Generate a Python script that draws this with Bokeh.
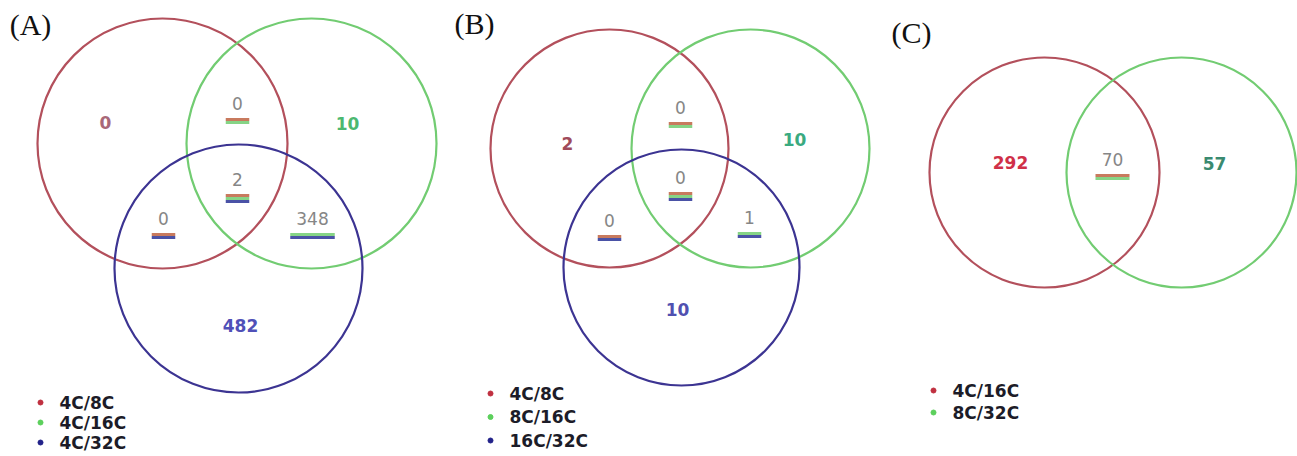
from bokeh.plotting import figure
from bokeh.models import Range1d
from bokeh.core.properties import value
from bokeh.embed import file_html
from bokeh.resources import INLINE

# ---------------- DATA ----------------
panel_titles = ["(A)", "(B)", "(C)"]
sets_A = ["4C/8C", "4C/16C", "4C/32C"]
sets_B = ["4C/8C", "8C/16C", "16C/32C"]
sets_C = ["4C/16C", "8C/32C"]
# region keys: which sets a region belongs to
regions_3 = ["1", "2", "3", "12", "13", "23", "123"]
regions_2 = ["1", "2", "12"]
counts_A = [0, 10, 482, 0, 0, 348, 2]
counts_B = [2, 10, 10, 0, 0, 1, 0]
counts_C = [292, 57, 70]

# ---------------- LAYOUT / STYLE ----------------
circle_line = ["#b3505c", "#72cc72", "#3c3492"]
stripe_col = ["#c87a5e", "#86d486", "#4a52a6"]
dot_col = ["#c03040", "#5cd05c", "#22228a"]
gray = "#868686"

layout = [
    dict(circles=[(162, 143, 125), (311, 143, 125), (238, 268, 124)],
         pos={"1": (105, 122), "2": (347, 123), "3": (240, 325), "12": (237, 103),
              "13": (163, 218), "23": (312, 218), "123": (237, 179)},
         solo_col=["#a86878", "#4cb870", "#5050b8"],
         title=(30, 24), legend=(40, 402, 20)),
    dict(circles=[(609, 148, 119), (750, 148, 119), (681, 267, 118)],
         pos={"1": (567, 143), "2": (794, 139), "3": (677, 309), "12": (680, 107),
              "13": (609, 220), "23": (749, 217), "123": (680, 177)},
         solo_col=["#a04a5a", "#3aaa80", "#5050b0"],
         title=(474, 23), legend=(490, 393, 23.5)),
    dict(circles=[(1044, 172, 115), (1181, 172, 115)],
         pos={"1": (1010, 162), "2": (1214, 163), "12": (1112, 159)},
         solo_col=["#d03048", "#3a8a70"],
         title=(911, 32), legend=(933, 390, 22)),
]
panel_data = [(sets_A, regions_3, counts_A), (sets_B, regions_3, counts_B), (sets_C, regions_2, counts_C)]

W, H = 1297, 456
p = figure(width=W, height=H, x_range=Range1d(0, W), y_range=Range1d(H, 0),
           output_backend="svg", toolbar_location=None, min_border=0)
p.axis.visible = False
p.grid.visible = False
p.outline_line_color = None
p.background_fill_color = "white"

for k, (sets, regs, counts) in enumerate(panel_data):
    L = layout[k]
    # circles
    cx = [c[0] for c in L["circles"]]
    cy = [c[1] for c in L["circles"]]
    cr = [c[2] for c in L["circles"]]
    p.circle(x=cx, y=cy, radius=cr, fill_color=None,
             line_color=circle_line[:len(sets)], line_width=2.2)
    # title
    p.text(x=[L["title"][0]], y=[L["title"][1]], text=[panel_titles[k]],
           text_align="center", text_baseline="middle",
           text_font=value("Liberation Serif"), text_font_size="30px", text_color="#111111")
    # region counts
    for r, c in zip(regs, counts):
        x, y = L["pos"][r]
        txt = str(c)
        if len(r) == 1:
            p.text(x=[x], y=[y], text=[txt], text_align="center", text_baseline="middle",
                   text_font=value("DejaVu Sans"), text_font_style="bold",
                   text_font_size="17px", text_color=L["solo_col"][int(r) - 1])
        else:
            p.text(x=[x], y=[y], text=[txt], text_align="center", text_baseline="middle",
                   text_font=value("DejaVu Sans"), text_font_size="17px", text_color=gray)
            w = 13 + 10.5 * len(txt)
            for i, s in enumerate(r):
                yy = y + 16 + 3 * i
                p.segment(x0=[x - w / 2], y0=[yy], x1=[x + w / 2], y1=[yy],
                          line_color=stripe_col[int(s) - 1], line_width=3)
    # legend
    lx, ly, dy = L["legend"]
    ys = [ly + dy * i for i in range(len(sets))]
    p.scatter(x=[lx] * len(sets), y=ys, size=5, color=dot_col[:len(sets)])
    p.text(x=[lx + 19] * len(sets), y=ys, text=sets, text_align="left", text_baseline="middle",
           text_font=value("DejaVu Sans"), text_font_style="bold",
           text_font_size="17px", text_color="#1c1c28")

open("out.html", "w").write(file_html(p, INLINE))
